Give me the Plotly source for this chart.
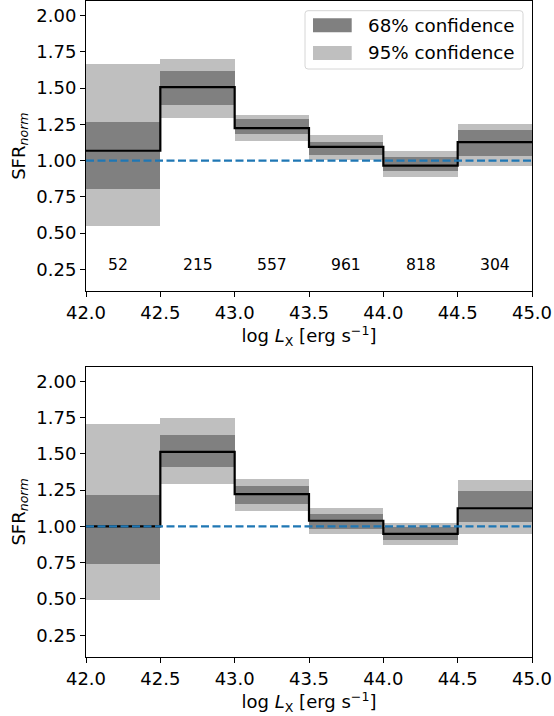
import plotly.graph_objects as go
import numpy as np

# ---- data ----
bin_edges = [42.0, 42.5, 43.0, 43.5, 44.0, 44.5, 45.0]
counts = [52, 215, 557, 961, 818, 304]
ref_level = 1.0

# top panel
top_median = [1.068, 1.506, 1.224, 1.094, 0.965, 1.128]
top_lo68 = [0.805, 1.383, 1.185, 1.039, 0.930, 1.032]
top_hi68 = [1.268, 1.616, 1.287, 1.130, 1.023, 1.211]
top_lo95 = [0.550, 1.296, 1.134, 1.005, 0.889, 0.963]
top_hi95 = [1.665, 1.701, 1.314, 1.177, 1.066, 1.253]

# bottom panel
bot_median = [1.000, 1.513, 1.223, 1.039, 0.948, 1.125]
bot_lo68 = [0.739, 1.409, 1.159, 0.987, 0.906, 1.029]
bot_hi68 = [1.221, 1.632, 1.283, 1.085, 0.998, 1.246]
bot_lo95 = [0.493, 1.297, 1.106, 0.946, 0.876, 0.946]
bot_hi95 = [1.704, 1.749, 1.329, 1.125, 1.026, 1.320]

x_ticks = [42.0, 42.5, 43.0, 43.5, 44.0, 44.5, 45.0]
y_ticks = [0.25, 0.50, 0.75, 1.00, 1.25, 1.50, 1.75, 2.00]

# ---- style ----
FONT = "DejaVu Sans"
DARK = "#808080"
LIGHT = "#bfbfbf"
BLUE = "#1f77b4"
W, H = 554, 716
ML, MR, MT, MB = 86, 22, 1, 59

edges = np.array(bin_edges)
centers = (edges[:-1] + edges[1:]) / 2
widths = np.diff(edges)

fig = go.Figure()

panels = [
    ("x", "y", top_median, top_lo68, top_hi68, top_lo95, top_hi95),
    ("x2", "y2", bot_median, bot_lo68, bot_hi68, bot_lo95, bot_hi95),
]

for xa, ya, med, lo68, hi68, lo95, hi95 in panels:
    lo95a, hi95a = np.array(lo95), np.array(hi95)
    lo68a, hi68a = np.array(lo68), np.array(hi68)
    fig.add_trace(go.Bar(x=centers, y=hi95a - lo95a, base=lo95a, width=widths,
                         marker=dict(color=LIGHT, line=dict(width=0)),
                         xaxis=xa, yaxis=ya, showlegend=False, hoverinfo="skip",
                         name="95% confidence"))
    fig.add_trace(go.Bar(x=centers, y=hi68a - lo68a, base=lo68a, width=widths,
                         marker=dict(color=DARK, line=dict(width=0)),
                         xaxis=xa, yaxis=ya, showlegend=False, hoverinfo="skip",
                         name="68% confidence"))
    fig.add_trace(go.Scatter(x=edges, y=list(med) + [med[-1]], mode="lines",
                             line=dict(color="black", width=2.2, shape="hv"),
                             xaxis=xa, yaxis=ya, showlegend=False, hoverinfo="skip"))
    fig.add_trace(go.Scatter(x=[edges[0], edges[-1]], y=[ref_level, ref_level], mode="lines",
                             line=dict(color=BLUE, width=2.2, dash="8px,3.5px"),
                             xaxis=xa, yaxis=ya, showlegend=False, hoverinfo="skip"))

pw = W - ML - MR
ph = H - MT - MB

def py(pix):
    return (H - MB - pix) / ph

def px(pix):
    return (pix - ML) / pw

axis_common = dict(
    showline=True, linecolor="black", linewidth=1, mirror=True,
    ticks="outside", ticklen=5, tickwidth=1, tickcolor="black",
    showgrid=False, zeroline=False,
    tickfont=dict(family=FONT, size=18, color="black"),
)

xt = dict(text="log <i>L</i><sub>X</sub> [erg s<sup>−1</sup>]",
          font=dict(family=FONT, size=18, color="black"), standoff=4)
yt = dict(text="SFR<sub><i>norm</i></sub>",
          font=dict(family=FONT, size=18, color="black"), standoff=6)

fig.update_layout(
    width=W, height=H,
    margin=dict(l=ML, r=MR, t=MT, b=MB, autoexpand=False),
    paper_bgcolor="white", plot_bgcolor="white",
    barmode="overlay", bargap=0,
    showlegend=False,
    xaxis=dict(domain=[0, 1], anchor="y", range=[42, 45], tickvals=x_ticks,
               tickformat=".1f", title=xt, **axis_common),
    yaxis=dict(domain=[py(291.2), 1.0], anchor="x", range=[0.1, 2.1], tickvals=y_ticks,
               tickformat=".2f", title=yt, **axis_common),
    xaxis2=dict(domain=[0, 1], anchor="y2", range=[42, 45], tickvals=x_ticks,
                tickformat=".1f", title=xt, **axis_common),
    yaxis2=dict(domain=[0, py(366.8)], anchor="x2", range=[0.1, 2.1], tickvals=y_ticks,
                tickformat=".2f", title=yt, **axis_common),
)

# counts annotations (top panel)
for i, (c, n) in enumerate(zip(centers, counts)):
    fig.add_annotation(x=c, y=0.25, xref="x", yref="y", text=str(n), showarrow=False,
                       yanchor="bottom", xshift=-5 if i == 0 else 0, yshift=-7,
                       font=dict(family=FONT, size=15.6, color="black"))

# legend (drawn manually to match the matplotlib look)
x0, x1, y0, y1 = px(305), px(523), py(69), py(10.7)
rx, ry = 3 / pw, 3 / ph
path = (f"M {x0+rx},{y0} L {x1-rx},{y0} Q {x1},{y0} {x1},{y0+ry} "
        f"L {x1},{y1-ry} Q {x1},{y1} {x1-rx},{y1} L {x0+rx},{y1} "
        f"Q {x0},{y1} {x0},{y1-ry} L {x0},{y0+ry} Q {x0},{y0} {x0+rx},{y0} Z")
fig.add_shape(type="path", path=path, xref="paper", yref="paper",
              line=dict(color="#d6d6d6", width=1), fillcolor="rgba(255,255,255,0.8)")
legend_items = [("68% confidence", DARK, 18.3, 32.3, 25.3), ("95% confidence", LIGHT, 46, 60, 53)]
for label, col, t, b, mid in legend_items:
    fig.add_shape(type="rect", xref="paper", yref="paper",
                  x0=px(313), x1=px(351.7), y0=py(b), y1=py(t),
                  line=dict(width=0), fillcolor=col)
    fig.add_annotation(x=px(366), y=py(mid), xref="paper", yref="paper", text=label,
                       showarrow=False, xanchor="left", yanchor="middle",
                       font=dict(family=FONT, size=18.3, color="black"))

fig.write_html("out.html")
